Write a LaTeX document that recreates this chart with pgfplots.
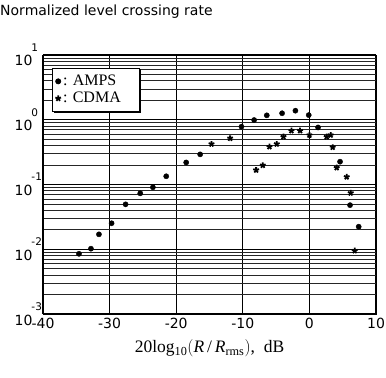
\documentclass[border=0pt]{standalone}
\usepackage{fontspec}
\setmainfont{Liberation Serif}
\newfontfamily\tickfont{DejaVu Sans}
\usepackage{pgfplots}
\pgfplotsset{compat=1.18}
\usetikzlibrary{calc,shadows}

% exponent label for the log axis: "10" with its power set high at the right
\newcommand{\decade}[1]{10\rlap{\kern-1pt\raisebox{1.9ex}{\fontsize{10.5}{10.5}\selectfont #1}}}

\begin{document}
\begin{tikzpicture}
\begin{axis}[
  scale only axis,
  width=333pt, height=259pt,
  xmin=-40, xmax=10,
  ymode=log, ymin=1e-3, ymax=10,
  xtick={-40,-30,-20,-10,0,10},
  xticklabels={-40,-30,-20,-10,0,10},
  ytick={1e-3,1e-2,1e-1,1,10},
  yticklabels={\decade{-3},\decade{-2},\decade{-1},\decade{0},\decade{1}},
  minor ytick={0.002,0.003,0.004,0.005,0.006,0.007,0.008,0.009,
               0.02,0.03,0.04,0.05,0.06,0.07,0.08,0.09,
               0.2,0.3,0.4,0.5,0.6,0.7,0.8,0.9,
               2,3,4,5,6,7,8,9},
  xmajorgrids, ymajorgrids, yminorgrids,
  major tick length=0pt, minor tick length=0pt,
  major grid style={black, line width=1.1pt},
  minor grid style={black!85, line width=0.6pt},
  axis line style={black, line width=0.7pt},
  tick label style={font=\tickfont\fontsize{14}{14}\selectfont},
  xticklabel style={yshift=-1pt},
  yticklabel style={xshift=-7pt},
  xlabel={20log\textsubscript{10}$\bigl($\textit{R}\,/\,\textit{R}\textsubscript{rms}$\bigr)$,~~dB},
  xlabel style={font=\fontsize{17.5}{17.5}\selectfont, yshift=-4pt},
  legend cell align=left,
  legend style={at={(rel axis cs:0.027,0.95)}, anchor=north west,
    font=\fontsize{16}{18}\selectfont, draw=black, line width=0.7pt,
    fill=white, inner xsep=3pt, inner ysep=5pt, row sep=1pt,
    drop shadow={shadow xshift=1.2pt, shadow yshift=-1.2pt, fill=black, opacity=1}},
  legend image code/.code={\draw[mark repeat=2,mark phase=2,#1]
      plot coordinates {(0cm,0cm)(0.08cm,0cm)(0.16cm,0cm)};},
]
% AMPS
\addplot[only marks, mark=*, mark size=2.6pt, black] coordinates {
  (-34.6,0.0085) (-32.8,0.0102) (-31.6,0.0170) (-29.7,0.0252) (-27.6,0.0494)
  (-25.4,0.0731) (-23.5,0.0906) (-21.5,0.134) (-18.5,0.219) (-16.4,0.292)
  (-10.2,0.782) (-8.3,0.99) (-6.4,1.17) (-4.1,1.26) (-2.1,1.38)
  (-0.1,1.18) (1.3,0.76) (4.6,0.225) (6.1,0.048) (7.4,0.0223)
};
\addlegendentry{: AMPS\hspace*{18pt}}
% CDMA
\addplot[only marks, mark=star, mark size=3pt, line width=1.8pt, black] coordinates {
  (-14.7,0.422) (-11.9,0.517) (-8.0,0.167) (-7.0,0.198) (-6.0,0.384)
  (-4.9,0.422) (-3.9,0.547) (-2.7,0.678) (-1.4,0.678) (0.0,0.58)
  (2.6,0.547) (3.2,0.58) (3.5,0.376) (4.1,0.182) (5.6,0.131)
  (6.2,0.074) (6.8,0.0095)
};
\addlegendentry{: CDMA}
\end{axis}
\node[anchor=west, inner sep=0pt, font=\tickfont\fontsize{14}{14}\selectfont]
  at ($(current axis.north west)+(-43pt,43pt)$) {Normalized level crossing rate};
\pgfresetboundingbox
\path[use as bounding box] ($(current axis.south west)+(-43pt,-64pt)$)
  rectangle ($(current axis.north east)+(10pt,55pt)$);
\end{tikzpicture}
\end{document}
